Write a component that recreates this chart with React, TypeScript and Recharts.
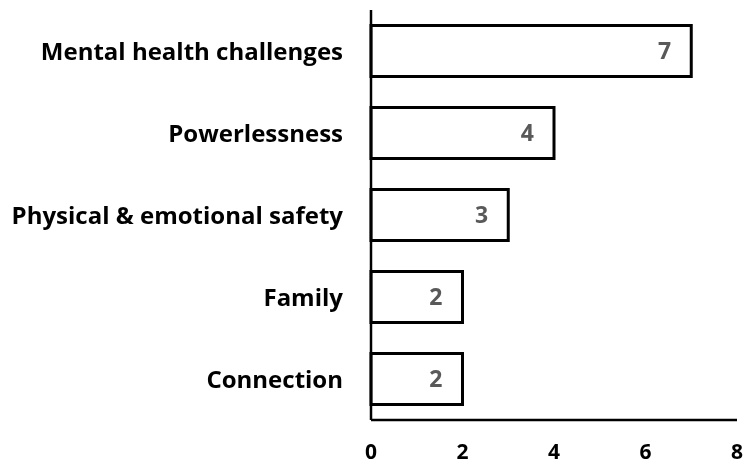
import React from 'react';
import { BarChart, Bar, XAxis, YAxis, LabelList } from 'recharts';

const categories = ['Mental health challenges', 'Powerlessness', 'Physical & emotional safety', 'Family', 'Connection'];
const counts = [7, 4, 3, 2, 2];
const xTicks = [0, 2, 4, 6, 8];

const data = categories.map((name, i) => ({ name, value: counts[i] }));

const font = '"Open Sans", Lato, sans-serif';

const App: React.FC = () => {
  return (
    <div style={{ position: 'fixed', left: 0, top: 0, width: 747, height: 464, fontFamily: font }}>
      <BarChart
        width={747}
        height={464}
        data={data}
        layout="vertical"
        margin={{ top: 10, right: 10, left: 0, bottom: 0 }}
        barCategoryGap="19%"
      >
        <XAxis
          type="number"
          domain={[0, 8]}
          ticks={xTicks}
          height={44}
          tickSize={0}
          tickMargin={24}
          stroke="#000"
          strokeWidth={2.5}
          tick={{ fill: '#000', fontSize: 21, fontWeight: 700, fontFamily: font }}
        />
        <YAxis
          type="category"
          dataKey="name"
          width={371}
          tickSize={0}
          tickMargin={28}
          stroke="#000"
          strokeWidth={2.5}
          tick={{ fill: '#000', fontSize: 24, fontWeight: 700, fontFamily: font }}
        />
        <Bar dataKey="value" fill="#fff" stroke="#000" strokeWidth={3} isAnimationActive={false}>
          <LabelList
            dataKey="value"
            position="insideRight"
            offset={20}
            fill="#595959"
            style={{ fontSize: 23, fontWeight: 700, fontFamily: font }}
          />
        </Bar>
      </BarChart>
    </div>
  );
};

export default App;
